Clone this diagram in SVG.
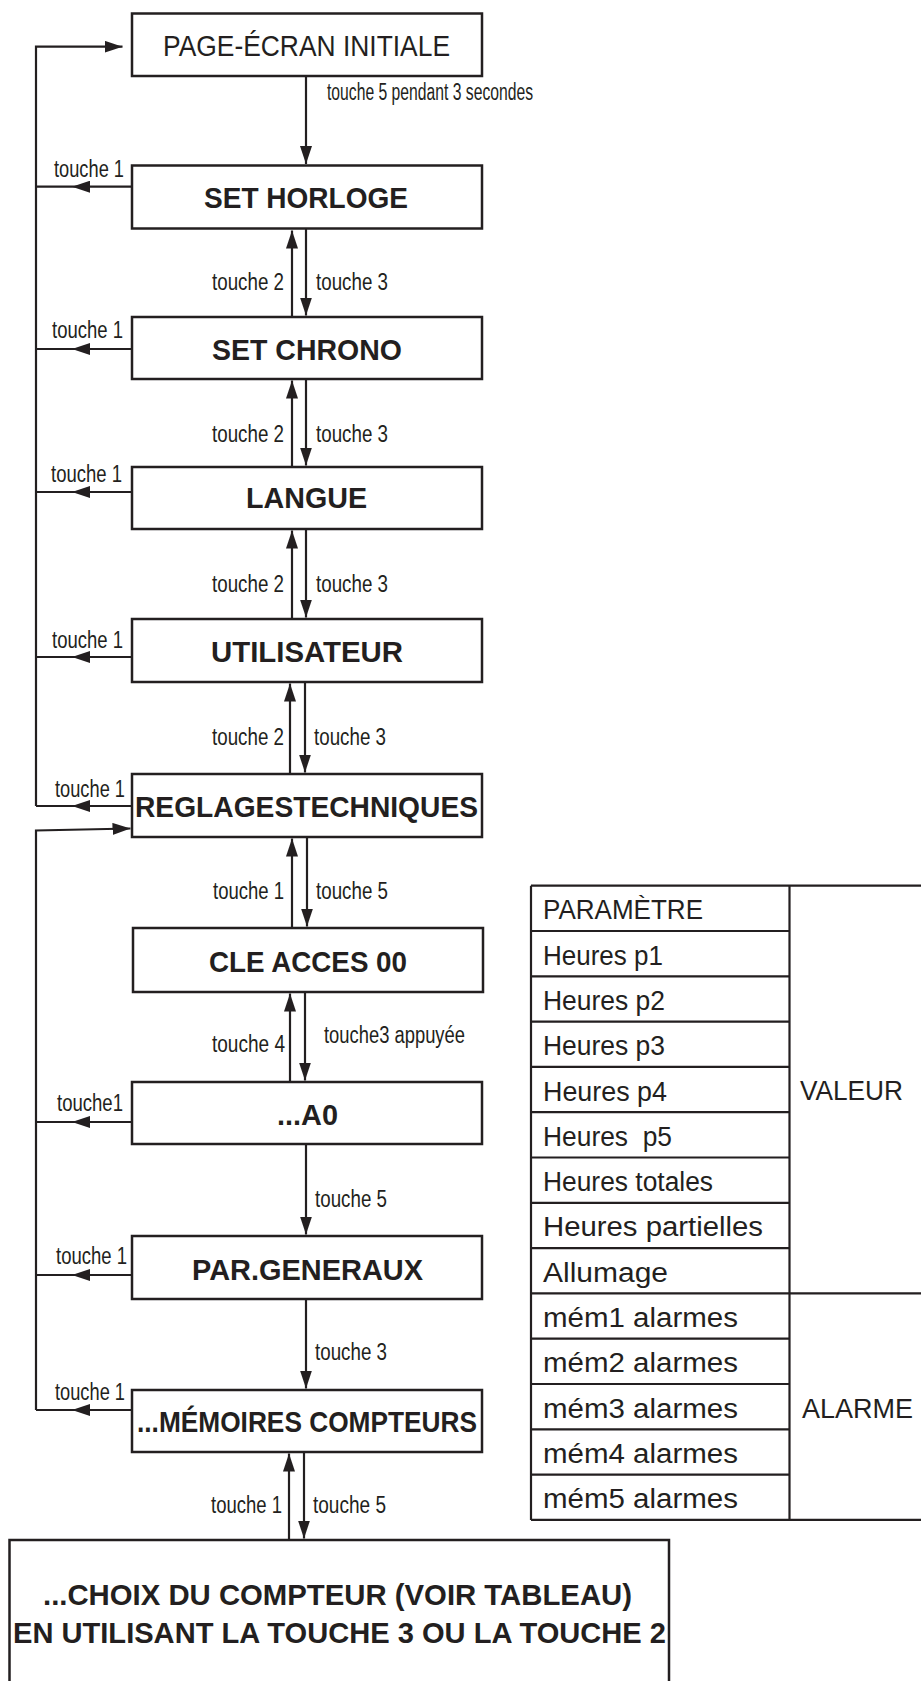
<svg xmlns="http://www.w3.org/2000/svg" width="921" height="1681" viewBox="0 0 921 1681">
<style>
.box{fill:#fff;stroke:#231f20;stroke-width:2.5}
.ln{fill:none;stroke:#231f20;stroke-width:2.2}
.tb{fill:none;stroke:#231f20;stroke-width:2.2}
.bt{font-family:"Liberation Sans",Arial,sans-serif;font-weight:bold;font-size:29.5px;fill:#231f20;text-anchor:middle}
.rt{font-family:"Liberation Sans",Arial,sans-serif;font-size:30px;fill:#231f20;text-anchor:middle}
.lb{font-family:"Liberation Sans",Arial,sans-serif;font-size:23px;fill:#231f20}
.tt{font-family:"Liberation Sans",Arial,sans-serif;font-size:27px;fill:#231f20}
</style>
<defs>
<marker id="ae" viewBox="0 0 18 12" refX="18" refY="6" markerWidth="18" markerHeight="12" markerUnits="userSpaceOnUse" orient="auto"><path d="M0,0 L18,6 L0,12 z" fill="#231f20"/></marker>
<marker id="am" viewBox="0 0 18 12" refX="0" refY="6" markerWidth="18" markerHeight="12" markerUnits="userSpaceOnUse" orient="auto"><path d="M0,0 L18,6 L0,12 z" fill="#231f20"/></marker>
</defs>
<rect width="921" height="1681" fill="#fff"/>

<g id="connectors">
<path class="ln" d="M36,806 V46.7 H122.5" marker-end="url(#ae)"/>
<path class="ln" d="M132,186.7 H90 H36" marker-mid="url(#am)"/>
<path class="ln" d="M132,349 H90 H36" marker-mid="url(#am)"/>
<path class="ln" d="M132,492 H90 H36" marker-mid="url(#am)"/>
<path class="ln" d="M132,657 H90 H36" marker-mid="url(#am)"/>
<path class="ln" d="M132,806 H90 H36" marker-mid="url(#am)"/>
<path class="ln" d="M36,1410 V830.5 L130.5,828.5" marker-end="url(#ae)"/>
<path class="ln" d="M132,1122 H90 H36" marker-mid="url(#am)"/>
<path class="ln" d="M132,1275 H90 H36" marker-mid="url(#am)"/>
<path class="ln" d="M132,1410 H90 H36" marker-mid="url(#am)"/>
<path class="ln" d="M306,76 V164" marker-end="url(#ae)"/>
<path class="ln" d="M292,317 V230.5" marker-end="url(#ae)"/>
<path class="ln" d="M306,229 V315.5" marker-end="url(#ae)"/>
<path class="ln" d="M292,467 V380.5" marker-end="url(#ae)"/>
<path class="ln" d="M306,379 V465.5" marker-end="url(#ae)"/>
<path class="ln" d="M292,619 V530.5" marker-end="url(#ae)"/>
<path class="ln" d="M306,529 V617.5" marker-end="url(#ae)"/>
<path class="ln" d="M290,774 V683.5" marker-end="url(#ae)"/>
<path class="ln" d="M305,682 V772.5" marker-end="url(#ae)"/>
<path class="ln" d="M292,928 V838.5" marker-end="url(#ae)"/>
<path class="ln" d="M307,837 V926.5" marker-end="url(#ae)"/>
<path class="ln" d="M290,1082 V993.5" marker-end="url(#ae)"/>
<path class="ln" d="M305,992 V1080.5" marker-end="url(#ae)"/>
<path class="ln" d="M306,1144 V1234.5" marker-end="url(#ae)"/>
<path class="ln" d="M306,1299 V1388.5" marker-end="url(#ae)"/>
<path class="ln" d="M289,1540 V1453.5" marker-end="url(#ae)"/>
<path class="ln" d="M304,1452 V1538.5" marker-end="url(#ae)"/>
<text class="lb" x="327" y="100" font-size="17.5" textLength="206" lengthAdjust="spacingAndGlyphs">touche 5 pendant 3 secondes</text>
<text class="lb" x="54" y="177" textLength="70" lengthAdjust="spacingAndGlyphs">touche 1</text>
<text class="lb" x="52" y="338" textLength="71" lengthAdjust="spacingAndGlyphs">touche 1</text>
<text class="lb" x="51" y="482" textLength="71" lengthAdjust="spacingAndGlyphs">touche 1</text>
<text class="lb" x="52" y="648" textLength="71" lengthAdjust="spacingAndGlyphs">touche 1</text>
<text class="lb" x="55" y="797" textLength="70" lengthAdjust="spacingAndGlyphs">touche 1</text>
<text class="lb" x="57" y="1111" textLength="66" lengthAdjust="spacingAndGlyphs">touche1</text>
<text class="lb" x="56" y="1264" textLength="71" lengthAdjust="spacingAndGlyphs">touche 1</text>
<text class="lb" x="55" y="1400" textLength="70" lengthAdjust="spacingAndGlyphs">touche 1</text>
<text class="lb" x="212" y="290" textLength="72" lengthAdjust="spacingAndGlyphs">touche 2</text>
<text class="lb" x="316" y="290" textLength="72" lengthAdjust="spacingAndGlyphs">touche 3</text>
<text class="lb" x="212" y="442" textLength="72" lengthAdjust="spacingAndGlyphs">touche 2</text>
<text class="lb" x="316" y="442" textLength="72" lengthAdjust="spacingAndGlyphs">touche 3</text>
<text class="lb" x="212" y="592" textLength="72" lengthAdjust="spacingAndGlyphs">touche 2</text>
<text class="lb" x="316" y="592" textLength="72" lengthAdjust="spacingAndGlyphs">touche 3</text>
<text class="lb" x="212" y="745" textLength="72" lengthAdjust="spacingAndGlyphs">touche 2</text>
<text class="lb" x="314" y="745" textLength="72" lengthAdjust="spacingAndGlyphs">touche 3</text>
<text class="lb" x="213" y="899" textLength="71" lengthAdjust="spacingAndGlyphs">touche 1</text>
<text class="lb" x="316" y="899" textLength="72" lengthAdjust="spacingAndGlyphs">touche 5</text>
<text class="lb" x="212" y="1052" textLength="73" lengthAdjust="spacingAndGlyphs">touche 4</text>
<text class="lb" x="324" y="1043" font-size="19" textLength="141" lengthAdjust="spacingAndGlyphs">touche3 appuyée</text>
<text class="lb" x="315" y="1207" textLength="72" lengthAdjust="spacingAndGlyphs">touche 5</text>
<text class="lb" x="315" y="1360" textLength="72" lengthAdjust="spacingAndGlyphs">touche 3</text>
<text class="lb" x="211" y="1513" textLength="71" lengthAdjust="spacingAndGlyphs">touche 1</text>
<text class="lb" x="313" y="1513" textLength="73" lengthAdjust="spacingAndGlyphs">touche 5</text>
</g>

<g id="page-ecran">
<rect class="box" x="132" y="13.5" width="350" height="62.5"/>
<text class="rt" x="306.5" y="56" textLength="287" lengthAdjust="spacingAndGlyphs">PAGE-ÉCRAN INITIALE</text>
</g>
<g id="set-horloge">
<rect class="box" x="132" y="165.5" width="350" height="63"/>
<text class="bt" x="306" y="208" textLength="204" lengthAdjust="spacingAndGlyphs">SET HORLOGE</text>
</g>
<g id="set-chrono">
<rect class="box" x="132" y="317" width="350" height="62"/>
<text class="bt" x="307" y="360" textLength="190" lengthAdjust="spacingAndGlyphs">SET CHRONO</text>
</g>
<g id="langue">
<rect class="box" x="132" y="467" width="350" height="62"/>
<text class="bt" x="306.5" y="508" textLength="121" lengthAdjust="spacingAndGlyphs">LANGUE</text>
</g>
<g id="utilisateur">
<rect class="box" x="132" y="619" width="350" height="63"/>
<text class="bt" x="307" y="662" textLength="192" lengthAdjust="spacingAndGlyphs">UTILISATEUR</text>
</g>
<g id="reglages">
<rect class="box" x="132" y="774" width="350" height="63"/>
<text class="bt" x="306.5" y="817" textLength="343" lengthAdjust="spacingAndGlyphs">REGLAGESTECHNIQUES</text>
</g>
<g id="cle-acces">
<rect class="box" x="133" y="928" width="350" height="64"/>
<text class="bt" x="308" y="972" textLength="198" lengthAdjust="spacingAndGlyphs">CLE ACCES 00</text>
</g>
<g id="a0">
<rect class="box" x="132" y="1082" width="350" height="62"/>
<text class="bt" x="307.5" y="1125" textLength="61" lengthAdjust="spacingAndGlyphs">...A0</text>
</g>
<g id="par-generaux">
<rect class="box" x="132" y="1236" width="350" height="63"/>
<text class="bt" x="307.5" y="1280" textLength="231" lengthAdjust="spacingAndGlyphs">PAR.GENERAUX</text>
</g>
<g id="memoires">
<rect class="box" x="132" y="1390" width="350" height="62"/>
<text class="bt" x="307" y="1432" textLength="340" lengthAdjust="spacingAndGlyphs">...MÉMOIRES COMPTEURS</text>
</g>
<g id="choix">
<rect class="box" x="9.5" y="1540" width="659.5" height="170"/>
<text class="bt" x="337.5" y="1605" textLength="589" lengthAdjust="spacingAndGlyphs">...CHOIX DU COMPTEUR (VOIR TABLEAU)</text>
<text class="bt" x="339.5" y="1643" textLength="653" lengthAdjust="spacingAndGlyphs">EN UTILISANT LA TOUCHE 3 OU LA TOUCHE 2</text>
</g>

<g id="tableau">
<path class="tb" d="M531,885.7 H925 M531,1293.4 H925 M531,1519.9 H925 M531,885.7 V1519.9 M789.5,885.7 V1519.9
M531,931 H789.5 M531,976.3 H789.5 M531,1021.6 H789.5 M531,1066.9 H789.5 M531,1112.2 H789.5 M531,1157.5 H789.5 M531,1202.8 H789.5 M531,1248.1 H789.5
M531,1338.7 H789.5 M531,1384 H789.5 M531,1429.3 H789.5 M531,1474.6 H789.5"/>
<text class="tt" x="543" y="919" textLength="160" lengthAdjust="spacingAndGlyphs">PARAMÈTRE</text>
<text class="tt" x="543" y="965" textLength="120" lengthAdjust="spacingAndGlyphs">Heures p1</text>
<text class="tt" x="543" y="1010" textLength="122" lengthAdjust="spacingAndGlyphs">Heures p2</text>
<text class="tt" x="543" y="1055" textLength="122" lengthAdjust="spacingAndGlyphs">Heures p3</text>
<text class="tt" x="543" y="1101" textLength="124" lengthAdjust="spacingAndGlyphs">Heures p4</text>
<text class="tt" x="543" y="1146" textLength="129" lengthAdjust="spacingAndGlyphs" xml:space="preserve">Heures  p5</text>
<text class="tt" x="543" y="1191" textLength="170" lengthAdjust="spacingAndGlyphs">Heures totales</text>
<text class="tt" x="543" y="1236" textLength="220" lengthAdjust="spacingAndGlyphs">Heures partielles</text>
<text class="tt" x="543" y="1282" textLength="125" lengthAdjust="spacingAndGlyphs">Allumage</text>
<text class="tt" x="543" y="1327" textLength="195" lengthAdjust="spacingAndGlyphs">mém1 alarmes</text>
<text class="tt" x="543" y="1372" textLength="195" lengthAdjust="spacingAndGlyphs">mém2 alarmes</text>
<text class="tt" x="543" y="1418" textLength="195" lengthAdjust="spacingAndGlyphs">mém3 alarmes</text>
<text class="tt" x="543" y="1463" textLength="195" lengthAdjust="spacingAndGlyphs">mém4 alarmes</text>
<text class="tt" x="543" y="1508" textLength="195" lengthAdjust="spacingAndGlyphs">mém5 alarmes</text>
<text class="tt" x="800" y="1100" textLength="103" lengthAdjust="spacingAndGlyphs">VALEUR</text>
<text class="tt" x="802" y="1418" textLength="111" lengthAdjust="spacingAndGlyphs">ALARME</text>
</g>
</svg>
